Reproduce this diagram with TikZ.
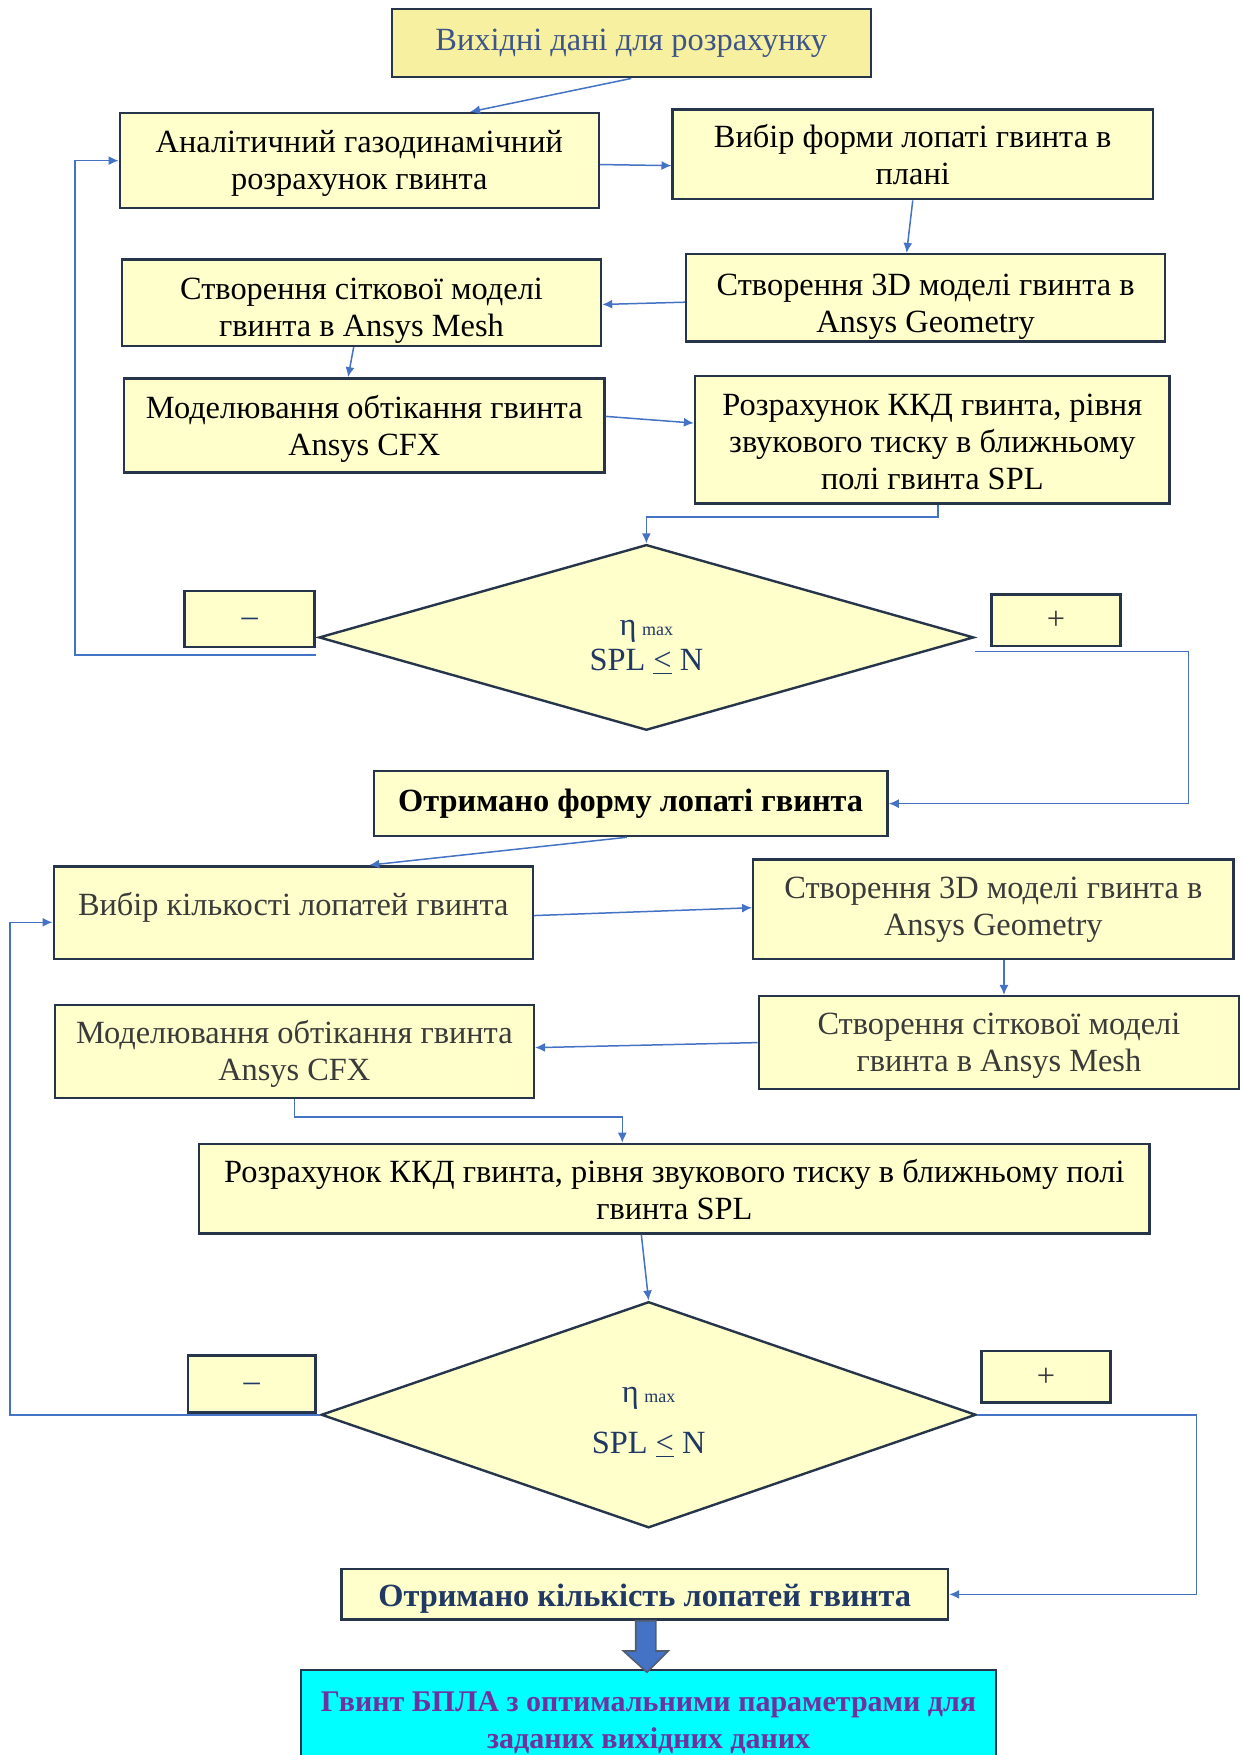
\documentclass[tikz,border=0pt]{standalone}
\usepackage{fontspec}
\setmainfont{Liberation Serif}
\usetikzlibrary{shapes.geometric,arrows.meta,calc}
\definecolor{bxfill}{HTML}{FFFFCC}
\definecolor{topfill}{HTML}{F7F0A0}
\definecolor{bxline}{HTML}{26354A}
\definecolor{conn}{HTML}{4472C4}
\definecolor{topt}{HTML}{3D5488}
\definecolor{greyt}{HTML}{3A3A3A}
\definecolor{navyt}{HTML}{1F3864}
\definecolor{purp}{HTML}{7030A0}
\definecolor{cyanf}{HTML}{00FFFF}
\def\uu{0.5598pt}
\newdimen\uud \uud=0.5598pt
\newcommand\bx[8]{\node[#6, minimum width={(#4-#2)*\uu}, minimum height={(#5-#3)*\uu}] (#1) at ({(#2+#4)/2},{(#3+#5)/2}) {\raisebox{-#8\uud}[\height][\depth]{\begin{tabular}{@{}c@{}}#7\end{tabular}}};}
\tikzset{
  box/.style={draw=bxline, line width=1.2pt, fill=bxfill, inner sep=0pt, align=center,
    font=\fontsize{16.2}{18.5}\selectfont},
  topbox/.style={box, fill=topfill, text=topt},
  greybox/.style={box, text=greyt},
  boldbox/.style={box, font=\fontsize{16.2}{18.5}\selectfont\bfseries},
  cyanbox/.style={box, fill=cyanf, text=purp, font=\fontsize{15}{18.5}\selectfont\bfseries},
  signbox/.style={box, text=navyt},
  decision/.style={diamond, draw=bxline, line width=1.2pt, fill=bxfill, inner sep=0pt,
    align=center, text=navyt, font=\fontsize{16.2}{18.5}\selectfont},
  conn/.style={draw=conn, line width=0.75pt, -{Latex[length=5pt,width=4.5pt]}},
}
\begin{document}
\begin{tikzpicture}[x=\uu, y=-\uu]
\useasboundingbox (0,0) rectangle (1112,1568);
% boxes
\bx{A}{350}{8}{778}{69}{topbox}{Вихідні дані для розрахунку}{0}
\bx{B}{107}{101}{535}{186}{box}{Аналітичний газодинамічний\\розрахунок гвинта}{3}
\bx{C}{601}{98}{1030}{178}{box}{Вибір форми лопаті гвинта в\\плані}{4}
\bx{D}{613}{227}{1041}{305}{box}{Створення 3D моделі гвинта в\\Ansys Geometry}{8}
\bx{E}{109}{232}{537}{309}{box}{Створення сіткової моделі\\гвинта в Ansys Mesh}{7}
\bx{F}{111}{338}{540}{422}{box}{Моделювання обтікання гвинта\\Ansys CFX}{4}
\bx{G}{621}{336}{1045}{450}{box}{Розрахунок ККД гвинта, рівня\\звукового тиску в ближньому\\полі гвинта SPL}{5}
\node[decision, minimum width={585*\uu}, minimum height={161*\uu}] (Q1) at (577.5,569.5)
  {\raisebox{-7\uud}[\height][\depth]{\begin{tabular}{@{}c@{}}η\,{\fontsize{9}{10}\selectfont max}\\[-1pt]SPL \underline{<} N\end{tabular}}};
\bx{M1}{165}{528}{281}{578}{signbox}{–}{0}
\bx{P1}{886}{531}{1001}{577}{signbox}{\textcolor{greyt}{+}}{2}
\bx{H}{334}{689}{793}{747}{boldbox}{Отримано форму лопаті гвинта}{0}
\bx{I}{48}{774}{476}{857}{greybox}{Вибір кількості лопатей гвинта}{-4}
\bx{J}{673}{768}{1102}{857}{greybox}{Створення 3D моделі гвинта в\\Ansys Geometry}{0}
\bx{K}{678}{890}{1107}{973}{greybox}{Створення сіткової моделі\\гвинта в Ansys Mesh}{3}
\bx{L}{49}{898}{477}{981}{greybox}{Моделювання обтікання гвинта\\Ansys CFX}{3}
\bx{M}{178}{1022}{1027}{1102}{box}{Розрахунок ККД гвинта, рівня звукового тиску в ближньому полі\\гвинта SPL}{4}
\node[decision, minimum width={585*\uu}, minimum height={202*\uu}] (Q2) at (579.5,1264)
  {\raisebox{-5\uud}[\height][\depth]{\begin{tabular}{@{}c@{}}η\,{\fontsize{9}{10}\selectfont max}\\[7pt]SPL \underline{<} N\end{tabular}}};
\bx{M2}{168}{1211}{282}{1262}{signbox}{–}{0}
\bx{P2}{877}{1207}{992}{1253}{signbox}{\textcolor{greyt}{+}}{2}
\bx{N}{305}{1402}{847}{1447}{boldbox}{\textcolor{navyt}{Отримано кількість лопатей гвинта}}{4}
\bx{O}{269}{1492}{890}{1580}{cyanbox}{Гвинт БПЛА з оптимальними параметрами для\\заданих вихідних даних}{3}
% connectors
\draw[conn] (A.south) -- ([xshift=99*\uu]B.north);
\draw[conn] ([yshift=-3.5*\uu]B.east) -- ([yshift=-10*\uu]C.west);
\draw[conn] (C.south) -- ([xshift=-17*\uu]D.north);
\draw[conn] ([yshift=-4*\uu]D.west) -- ([yshift=-1.5*\uu]E.east);
\draw[conn] ([xshift=-7*\uu]E.south) -- ([xshift=-14.5*\uu]F.north);
\draw[conn] ([yshift=8*\uu]F.east) -- ([yshift=15*\uu]G.west);
\draw[conn] ([xshift=5*\uu]G.south) -- ++(0,11) -| (Q1.north);
\draw[conn] ([yshift=-6*\uu]M1.south east) -- ++(-215,0) |- (B.west);
\draw[conn] ([yshift=-12.5*\uu]Q1.east) -- ++(191,0) |- (H.east);
\draw[conn] ([xshift=-3.5*\uu]H.south) -- ([xshift=68*\uu]I.north);
\draw[conn] ([yshift=-2.5*\uu]I.east) -- ([yshift=1.5*\uu]J.west);
\draw[conn] ([xshift=9.5*\uu]J.south) -- ([xshift=4.5*\uu]K.north);
\draw[conn] (K.west) -- ([yshift=3.5*\uu]L.east);
\draw[conn] (L.south) -- ++(0,16) -| ([xshift=-46.5*\uu]M.north);
\draw[conn] ([xshift=-29.5*\uu]M.south) -- (Q2.north);
\draw[conn] (Q2.west) -- ++(-277,0) |- ([yshift=-8.5*\uu]I.west);
\draw[conn] (Q2.east) -- ++(196,0) |- (N.east);
% thick arrow
\draw[fill=conn, draw=bxline!80, line width=0.8pt]
  ($(N.south)+(-8,0)$) -- ($(N.south)+(-8,27)$) -- ($(N.south)+(-19,27)$) -- ($(N.south)+(2,46)$)
  -- ($(N.south)+(21,27)$) -- ($(N.south)+(10,27)$) -- ($(N.south)+(10,0)$) -- cycle;
\end{tikzpicture}
\end{document}
